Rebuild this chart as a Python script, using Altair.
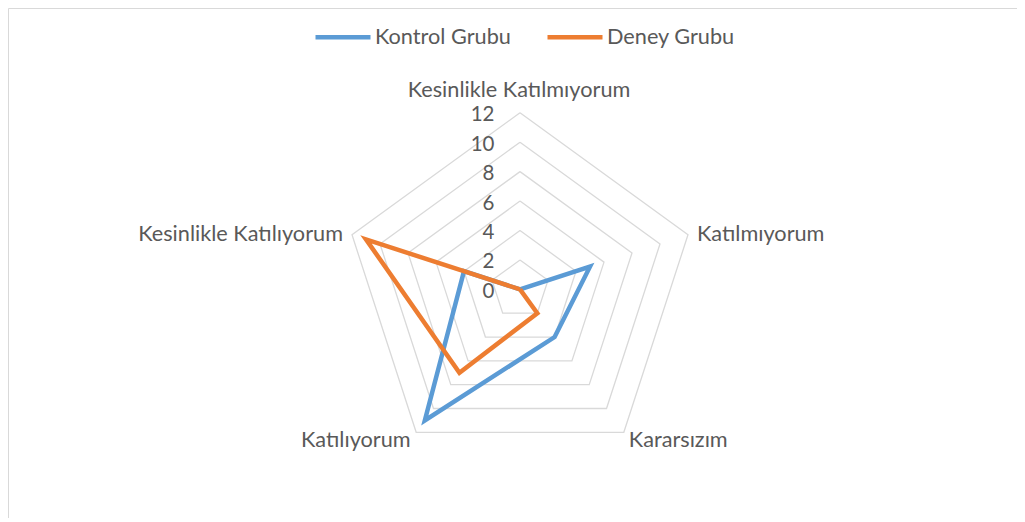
import altair as alt
import pandas as pd
import numpy as np

# ---- data ----
categories = ["Kesinlikle Katılmıyorum", "Katılmıyorum", "Kararsızım",
              "Katılıyorum", "Kesinlikle Katılıyorum"]
series_names = ["Kontrol Grubu", "Deney Grubu"]
kontrol = [0, 5, 4, 11, 4]
deney = [0, 0, 2, 7, 11]
ticks = [0, 2, 4, 6, 8, 10, 12]
colors = ["#5B9BD5", "#ED7D31"]

# ---- layout (pixels) ----
W, H = 1009, 510
CX, CY = 512, 281.4
K = 14.72  # px per unit
FONT = "Lato"
TXT = "#595959"
FS = 21.7

n = len(categories)
angles = [np.pi / 2 - 2 * np.pi * i / n for i in range(n)]

rows = []
for name, vals in zip(series_names, [kontrol, deney]):
    for j in range(n + 1):
        i = j % n
        rows.append(dict(series=name, order=j, cat=categories[i], value=vals[i],
                         x=vals[i] * np.cos(angles[i]), y=vals[i] * np.sin(angles[i])))
series_df = pd.DataFrame(rows)

ring_rows = []
for t in ticks[1:]:
    for j in range(n + 1):
        i = j % n
        ring_rows.append(dict(tick=t, order=j,
                              x=t * np.cos(angles[i]), y=t * np.sin(angles[i])))
ring_df = pd.DataFrame(ring_rows)

tick_df = pd.DataFrame({"x": [0] * len(ticks), "y": ticks, "label": [str(t) for t in ticks]})

rmax = max(ticks)
cat_df = pd.DataFrame({"cat": categories,
                       "x": [rmax * np.cos(a) for a in angles],
                       "y": [rmax * np.sin(a) for a in angles]})

xs = alt.Scale(domain=[-CX / K, (W - CX) / K], nice=False, zero=False)
ys = alt.Scale(domain=[-(H - CY) / K, CY / K], nice=False, zero=False)
X = alt.X("x:Q", scale=xs, axis=None)
Y = alt.Y("y:Q", scale=ys, axis=None)

rings = alt.Chart(ring_df).mark_line(color="#d9d9d9", strokeWidth=1.3).encode(
    x=X, y=Y, detail="tick:N", order="order:Q")

lines = alt.Chart(series_df).mark_line(strokeWidth=4.5, strokeJoin="miter").encode(
    x=X, y=Y, order="order:Q",
    color=alt.Color("series:N",
                    scale=alt.Scale(domain=series_names, range=colors),
                    sort=series_names,
                    legend=alt.Legend(orient="none", legendX=305, legendY=-1,
                                      direction="horizontal", title=None,
                                      symbolType="stroke", symbolSize=3025,
                                      symbolStrokeWidth=4.5, labelFontSize=FS,
                                      labelFont=FONT, labelColor=TXT,
                                      labelOffset=2, columnPadding=27)))

tick_text = alt.Chart(tick_df).mark_text(
    align="right", baseline="alphabetic", dx=-25.5, dy=8.5,
    font=FONT, fontSize=20.5, color=TXT).encode(x=X, y=Y, text="label:N")

label_cfg = [("center", -1, -16), ("left", 9, 6.5), ("left", 5, 15),
             ("right", -5.5, 15), ("right", -9, 6.5)]
label_layers = []
for c, (al, dx, dy) in zip(categories, label_cfg):
    label_layers.append(
        alt.Chart(cat_df).transform_filter(alt.datum.cat == c).mark_text(
            align=al, baseline="alphabetic", dx=dx, dy=dy,
            font=FONT, fontSize=FS, color=TXT).encode(x=X, y=Y, text="cat:N"))

chart = alt.layer(rings, lines, tick_text, *label_layers).properties(
    width=W, height=H,
    autosize=alt.AutoSizeParams(type="none"), padding=0,
).configure_view(stroke="#d9d9d9", strokeWidth=1)

chart.save("out.html", embed_options={"renderer": "svg", "actions": False})
